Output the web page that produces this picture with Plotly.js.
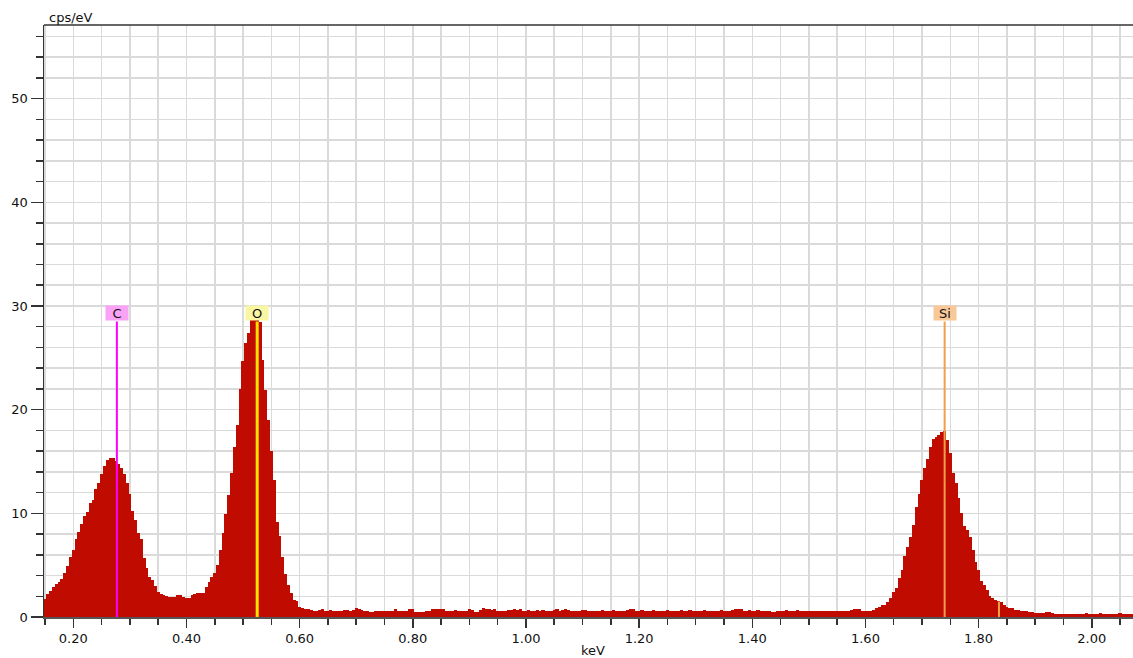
<!DOCTYPE html>
<html>
<head>
<meta charset="utf-8">
<script src="https://cdn.plot.ly/plotly-3.0.1.min.js"></script>
<style>
  html, body { margin: 0; padding: 0; background: #ffffff; }
  #chart { width: 1133px; height: 658px; }
</style>
</head>
<body>
<div id="chart"></div>
<script>
// EDS spectrum, 5 eV channels, counts in cps/eV
const binWidth = 0.005;

// 0.150 - 0.610 keV : C Ka and O Ka peaks
const lowStart = 0.150;
const lowCounts = [
  1.7, 2.2, 2.5, 2.9, 3.2, 3.4, 3.7, 4.2, 4.9, 5.8,
  6.5, 7.5, 8.2, 9.0, 9.7, 10.1, 11.0, 11.3, 12.3, 12.9,
  13.8, 14.6, 15.1, 15.3, 15.3, 15.0, 14.8, 14.4, 13.8, 12.9,
  11.9, 10.2, 9.4, 8.1, 7.5, 5.7, 4.7, 3.9, 3.6, 3.0,
  2.4, 2.2, 2.1, 2.0, 1.95, 1.95, 1.95, 2.1, 2.1, 1.95,
  1.85, 1.8, 2.1, 2.2, 2.3, 2.3, 2.3, 2.9, 3.4, 3.9,
  4.2, 5.0, 6.5, 8.1, 9.9, 11.8, 13.9, 16.4, 18.5, 22.0,
  24.7, 26.4, 27.4, 28.7, 28.7, 28.6, 28.5, 24.8, 21.9, 19.0,
  16.0, 13.2, 9.2, 7.8, 5.8, 4.1, 3.1, 2.3, 1.6, 1.5,
  1.0, 0.9, 0.75
];

// 0.615 - 1.580 keV : bremsstrahlung plateau
const plateauStart = 0.615;
const plateauCounts = [
  0.74, 0.7, 0.62, 0.6, 0.72, 0.74, 0.62, 0.6, 0.66, 0.6,
  0.58, 0.62, 0.6, 0.66, 0.7, 0.62, 0.64, 0.84, 0.82, 0.66,
  0.62, 0.6, 0.5, 0.52, 0.6, 0.62, 0.6, 0.6, 0.58, 0.62,
  0.6, 0.74, 0.62, 0.6, 0.6, 0.62, 0.78, 0.76, 0.5, 0.52,
  0.5, 0.5, 0.54, 0.62, 0.78, 0.78, 0.76, 0.78, 0.74, 0.6,
  0.62, 0.6, 0.7, 0.62, 0.6, 0.62, 0.6, 0.74, 0.72, 0.5,
  0.52, 0.66, 0.84, 0.8, 0.74, 0.72, 0.74, 0.58, 0.6, 0.56,
  0.58, 0.68, 0.66, 0.74, 0.72, 0.74, 0.6, 0.62, 0.66, 0.6,
  0.58, 0.64, 0.6, 0.66, 0.58, 0.62, 0.6, 0.7, 0.78, 0.6,
  0.72, 0.74, 0.72, 0.6, 0.58, 0.62, 0.6, 0.64, 0.66, 0.58,
  0.6, 0.62, 0.56, 0.6, 0.66, 0.62, 0.6, 0.58, 0.64, 0.6,
  0.62, 0.58, 0.6, 0.66, 0.82, 0.76, 0.62, 0.6, 0.64, 0.58,
  0.6, 0.62, 0.66, 0.6, 0.58, 0.62, 0.6, 0.66, 0.62, 0.6,
  0.58, 0.62, 0.66, 0.6, 0.62, 0.64, 0.6, 0.58, 0.6, 0.62,
  0.66, 0.6, 0.62, 0.58, 0.6, 0.62, 0.66, 0.6, 0.62, 0.6,
  0.64, 0.78, 0.8, 0.76, 0.62, 0.6, 0.64, 0.6, 0.62, 0.66,
  0.6, 0.58, 0.62, 0.6, 0.46, 0.45, 0.6, 0.62, 0.6, 0.64,
  0.62, 0.6, 0.6, 0.66, 0.62, 0.6, 0.58, 0.62, 0.6, 0.6,
  0.62, 0.6, 0.58, 0.6, 0.6, 0.62, 0.6, 0.58, 0.6, 0.6,
  0.58, 0.62, 0.7, 0.8
];

// 1.585 - 1.850 keV : Si Ka peak
const siStart = 1.585;
const siCounts = [
  0.8, 0.75, 0.6, 0.55, 0.58, 0.55, 0.7, 0.9, 0.95, 1.16,
  1.16, 1.4, 1.8, 2.4, 2.8, 3.8, 4.5, 5.9, 6.8, 7.7,
  8.85, 10.6, 11.9, 13.2, 14.4, 15.2, 16.4, 17.2, 17.4, 17.6,
  17.8, 17.9, 17.1, 15.8, 13.9, 12.9, 11.5, 10.0, 8.8, 8.4,
  7.75, 6.5, 5.3, 4.5, 3.5, 3.1, 2.6, 2.0, 1.8, 1.6,
  1.5, 1.45, 1.2, 1.0
];

// 1.855 - 2.070 keV : high-energy tail
const tailStart = 1.855;
const tailCounts = [
  0.9, 0.84, 0.72, 0.68, 0.62, 0.62, 0.55, 0.51, 0.5, 0.42,
  0.42, 0.42, 0.38, 0.45, 0.45, 0.42, 0.32, 0.28, 0.28, 0.28,
  0.28, 0.28, 0.28, 0.28, 0.28, 0.28, 0.28, 0.42, 0.28, 0.28,
  0.28, 0.28, 0.42, 0.28, 0.28, 0.28, 0.28, 0.28, 0.28, 0.42,
  0.28, 0.28, 0.28, 0.28
];

// identified element lines (keV) and marker heights
const elementNames = ['C', 'O', 'Si'];
const elementEnergies = [0.277, 0.525, 1.740];
const elementLineTop = 28.5;
const siKbEnergy = 1.836;
const siKbHeight = 1.5;

const xTickValues = [0.2, 0.4, 0.6, 0.8, 1.0, 1.2, 1.4, 1.6, 1.8, 2.0];
const xTickLabels = ['0.20', '0.40', '0.60', '0.80', '1.00', '1.20', '1.40', '1.60', '1.80', '2.00'];

// styling
const barColor = '#c00c00';
const lineColors = ['#ff00ff', '#ffe100', '#f0a04a'];
const labelFills = ['#f9a2f6', '#faf6a2', '#f9c899'];
const gridColor = '#dadada';
const axisColor = '#333333';
const fontFamily = 'DejaVu Sans, Verdana, sans-serif';

function channels(start, counts) {
  return counts.map((_, i) => Math.round((start + i * binWidth) * 1000) / 1000);
}

const energies = [].concat(
  channels(lowStart, lowCounts),
  channels(plateauStart, plateauCounts),
  channels(siStart, siCounts),
  channels(tailStart, tailCounts)
);
const counts = [].concat(lowCounts, plateauCounts, siCounts, tailCounts);

const traces = [{
  type: 'bar',
  x: energies,
  y: counts,
  // channels drawn a touch wider than the bin so neighbours overlap without seams
  width: binWidth * 1.12,
  marker: { color: barColor, line: { width: 0 } },
  hoverinfo: 'x+y',
  showlegend: false
}];

elementEnergies.forEach((e, i) => {
  traces.push({
    type: 'scatter',
    mode: 'lines',
    x: [e, e],
    y: [0, elementLineTop],
    line: { color: lineColors[i], width: i === 1 ? 3 : 2 },
    hoverinfo: 'skip',
    showlegend: false
  });
});
traces.push({
  type: 'scatter',
  mode: 'lines',
  x: [siKbEnergy, siKbEnergy],
  y: [0, siKbHeight],
  line: { color: lineColors[2], width: 2 },
  hoverinfo: 'skip',
  showlegend: false
});

const annotations = elementNames.map((name, i) => ({
  x: elementEnergies[i],
  y: elementLineTop,
  xref: 'x',
  yref: 'y',
  text: name,
  showarrow: false,
  xanchor: 'center',
  yanchor: 'bottom',
  yshift: 1,
  width: 22,
  height: 14,
  bgcolor: labelFills[i],
  borderpad: 0,
  font: { family: fontFamily, size: 13, color: '#111111' }
}));
annotations.push({
  x: 0, y: 1, xref: 'paper', yref: 'paper',
  text: 'cps/eV', showarrow: false,
  xanchor: 'left', yanchor: 'bottom', xshift: 3, yshift: -2,
  font: { family: fontFamily, size: 13, color: '#111111' }
});
annotations.push({
  x: 0.504, y: 0, xref: 'paper', yref: 'paper',
  text: 'keV', showarrow: false,
  xanchor: 'center', yanchor: 'top', yshift: -24,
  font: { family: fontFamily, size: 13, color: '#111111' }
});

const layout = {
  width: 1133,
  height: 658,
  margin: { l: 44, r: 0, t: 25, b: 41, pad: 0 },
  paper_bgcolor: '#ffffff',
  plot_bgcolor: '#ffffff',
  font: { family: fontFamily, size: 13, color: '#111111' },
  bargap: 0,
  barmode: 'overlay',
  xaxis: {
    range: [0.1482, 2.0729],
    tickvals: xTickValues,
    ticktext: xTickLabels,
    ticks: 'outside',
    ticklen: 9,
    tickwidth: 1.5,
    tickcolor: axisColor,
    showgrid: true,
    gridcolor: gridColor,
    gridwidth: 1.5,
    zeroline: false,
    showline: true,
    linecolor: '#555555',
    linewidth: 1.5,
    minor: {
      dtick: 0.05, tick0: 0, ticks: 'outside', ticklen: 6,
      tickwidth: 1.5, tickcolor: axisColor,
      showgrid: true, gridcolor: gridColor, gridwidth: 1.5
    },
    tickfont: { family: fontFamily, size: 13, color: '#111111' },
    fixedrange: true
  },
  yaxis: {
    range: [0, 57.1],
    dtick: 10,
    tick0: 0,
    ticks: 'outside',
    ticklen: 12,
    tickwidth: 1.5,
    tickcolor: axisColor,
    showgrid: true,
    gridcolor: gridColor,
    gridwidth: 1.5,
    zeroline: false,
    showline: true,
    linecolor: axisColor,
    linewidth: 1.5,
    minor: {
      dtick: 2, tick0: 0, ticks: 'outside', ticklen: 7,
      tickwidth: 1.5, tickcolor: axisColor,
      showgrid: true, gridcolor: gridColor, gridwidth: 1.5
    },
    tickfont: { family: fontFamily, size: 13, color: '#111111' },
    fixedrange: true
  },
  shapes: [{
    type: 'line', xref: 'paper', yref: 'paper',
    x0: 0, x1: 1, y0: 1, y1: 1,
    line: { color: axisColor, width: 1.5 }
  }],
  annotations: annotations
};

Plotly.newPlot('chart', traces, layout, { displayModeBar: false, staticPlot: true });
</script>
</body>
</html>
